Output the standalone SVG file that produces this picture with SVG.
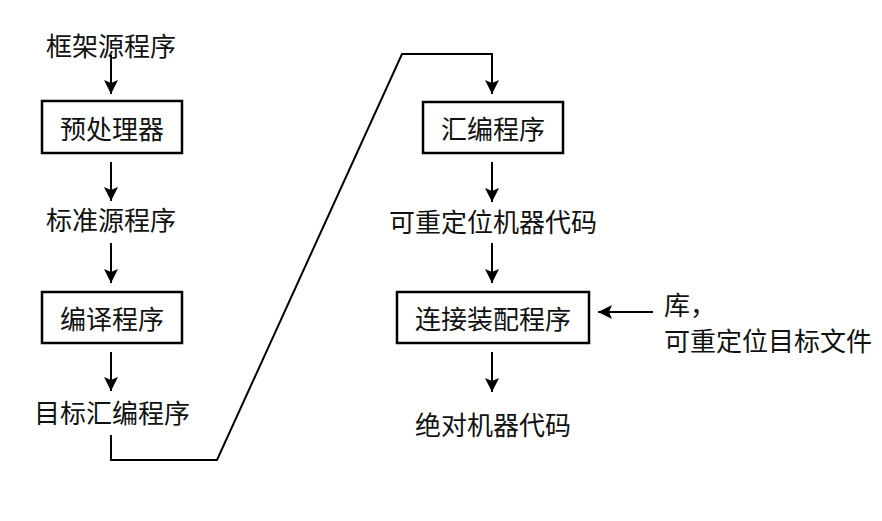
<svg xmlns="http://www.w3.org/2000/svg" width="882" height="521" viewBox="0 0 882 521">
<defs>
<marker id="ah" markerWidth="14" markerHeight="16" refX="14" refY="7" orient="auto" markerUnits="userSpaceOnUse">
<path d="M0,0 L14,7 L0,14 L3,7 Z" fill="#000"/>
</marker>
<style>
text{font-family:"Noto Sans CJK SC","Noto Sans",sans-serif;font-size:26px;fill:#111;dominant-baseline:central}
.c{text-anchor:middle}
.box{fill:#fff;stroke:#000;stroke-width:2.5}
.ar{fill:none;stroke:#000;stroke-width:2;marker-end:url(#ah)}
</style>
</defs>
<rect width="882" height="521" fill="#fff"/>
<g id="connectors">
<line class="ar" x1="111" y1="55" x2="111" y2="94"/>
<line class="ar" x1="111" y1="162" x2="111" y2="201"/>
<line class="ar" x1="111" y1="243" x2="111" y2="283"/>
<line class="ar" x1="111" y1="352" x2="111" y2="391"/>
<path class="ar" d="M111,435 L111,460 L217,460 L402,54 L492,54 L492,94"/>
<line class="ar" x1="492" y1="162" x2="492" y2="202"/>
<line class="ar" x1="492" y1="243" x2="492" y2="283"/>
<line class="ar" x1="492" y1="352" x2="492" y2="392"/>
<line class="ar" x1="653" y1="312" x2="598" y2="312"/>
</g>
<g id="n1"><text class="c" x="111" y="44">框架源程序</text></g>
<g id="n2"><rect class="box" x="42" y="101" width="140" height="52"/><text class="c" x="112" y="127">预处理器</text></g>
<g id="n3"><text class="c" x="111" y="218">标准源程序</text></g>
<g id="n4"><rect class="box" x="42" y="292" width="140" height="51"/><text class="c" x="112" y="317">编译程序</text></g>
<g id="n5"><text class="c" x="112" y="411">目标汇编程序</text></g>
<g id="n6"><rect class="box" x="423" y="102" width="140" height="51"/><text class="c" x="493" y="127">汇编程序</text></g>
<g id="n7"><text class="c" x="493" y="220">可重定位机器代码</text></g>
<g id="n8"><rect class="box" x="397" y="292" width="192" height="51"/><text class="c" x="493" y="317">连接装配程序</text></g>
<g id="n9"><text x="664" y="303">库，</text><text x="664" y="339">可重定位目标文件</text></g>
<g id="n10"><text class="c" x="493" y="423">绝对机器代码</text></g>
</svg>
